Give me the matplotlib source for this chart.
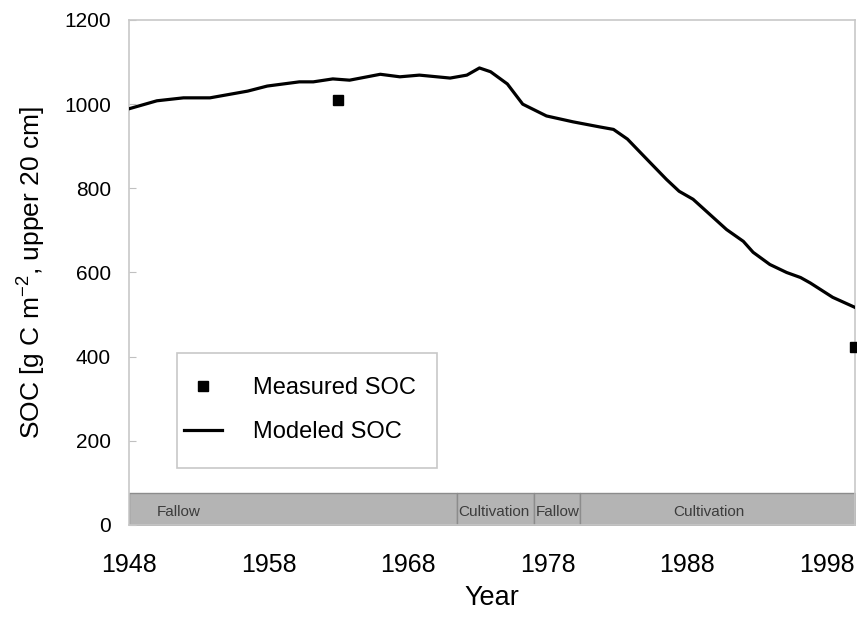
import numpy as np
import matplotlib
matplotlib.use("Agg")
import matplotlib.pyplot as plt
from matplotlib.patches import Rectangle

plt.rcParams['font.family'] = ['Liberation Sans', 'DejaVu Sans']

# Modeled SOC
model_years = [1948.0, 1950.0, 1951.9, 1953.8, 1956.5, 1957.9, 1960.2, 1961.2,
               1962.6, 1963.8, 1966.0, 1967.4, 1968.8, 1971.0, 1972.2, 1973.1,
               1973.9, 1975.1, 1976.2, 1977.9, 1979.8, 1981.7, 1982.7, 1983.7,
               1984.6, 1985.3, 1986.5, 1987.4, 1988.4, 1989.6, 1990.8, 1992.0,
               1992.7, 1993.9, 1995.1, 1996.1, 1996.8, 1998.4, 2000.0]
model_soc = [989, 1008, 1015, 1015, 1031, 1043, 1053, 1053,
             1060, 1057, 1071, 1065, 1069, 1062, 1069, 1086,
             1077, 1048, 1000, 972, 958, 946, 940, 917,
             886, 862, 821, 793, 774, 738, 702, 674,
             648, 619, 600, 588, 575, 541, 517]

# Measured SOC
meas_years = [1963, 2000]
meas_soc = [1010, 424]

# Land-use periods
period_names = ['Fallow', 'Cultivation', 'Fallow', 'Cultivation']
period_start = [1948, 1971.5, 1977, 1980.3]
period_end = [1971.5, 1977, 1980.3, 2000]
band_top = 76

fig = plt.figure(figsize=(8.57, 6.19), dpi=100)
ax = fig.add_axes([0.1505, 0.1519, 0.8472, 0.8158])

for name, s, e in zip(period_names, period_start, period_end):
    ax.fill_between([s, e], 0, band_top, facecolor='#b4b4b4', edgecolor='#8c8c8c',
                    linewidth=1, zorder=1)
text_pos = [1950, 1971.6, 1977.1, 1989.5]
text_ha = ['left', 'left', 'left', 'center']
for name, xp, ha in zip(period_names, text_pos, text_ha):
    ax.text(xp, 30, name, ha=ha, va='center', fontsize=11, color='#3c3c3c', zorder=2)

ax.plot(model_years, model_soc, color='black', lw=2.3, label='Modeled SOC', zorder=3)
ax.plot(meas_years, meas_soc, 's', color='black', ms=6.5, label='Measured SOC',
        clip_on=False, zorder=4)

ax.set_xlim(1948, 2000)
ax.set_ylim(0, 1200)
ax.set_xticks([1948, 1958, 1968, 1978, 1988, 1998])
ax.set_yticks(np.arange(0, 1201, 200))
ax.tick_params(axis='x', length=0, labelsize=18, pad=20)
ax.tick_params(axis='y', direction='in', length=5, color='#c0c0c0', labelsize=15, pad=13)
for sp in ax.spines.values():
    sp.set_color('#c8c8c8')
    sp.set_linewidth(1.2)

ax.set_xlabel('Year', fontsize=19.5, labelpad=6)
ax.set_ylabel('SOC [g C m$^{\\mathregular{-2}}$, upper 20 cm]', fontsize=19, labelpad=12)

# legend box
ax.add_patch(Rectangle((0.0661, 0.1129), 0.3581, 0.2277, transform=ax.transAxes,
                       facecolor='white', edgecolor='#c8c8c8', lw=1.2, zorder=5))
handles, labels = ax.get_legend_handles_labels()
leg = ax.legend(handles[::-1], labels[::-1], loc='center left',
                bbox_to_anchor=(0.0661, 0.2277), fontsize=17, frameon=False,
                handlelength=1.6, labelspacing=0.95, borderpad=0.3,
                handletextpad=1.3, borderaxespad=0)
leg.set_zorder(6)

fig.savefig('out.png', dpi=100)
